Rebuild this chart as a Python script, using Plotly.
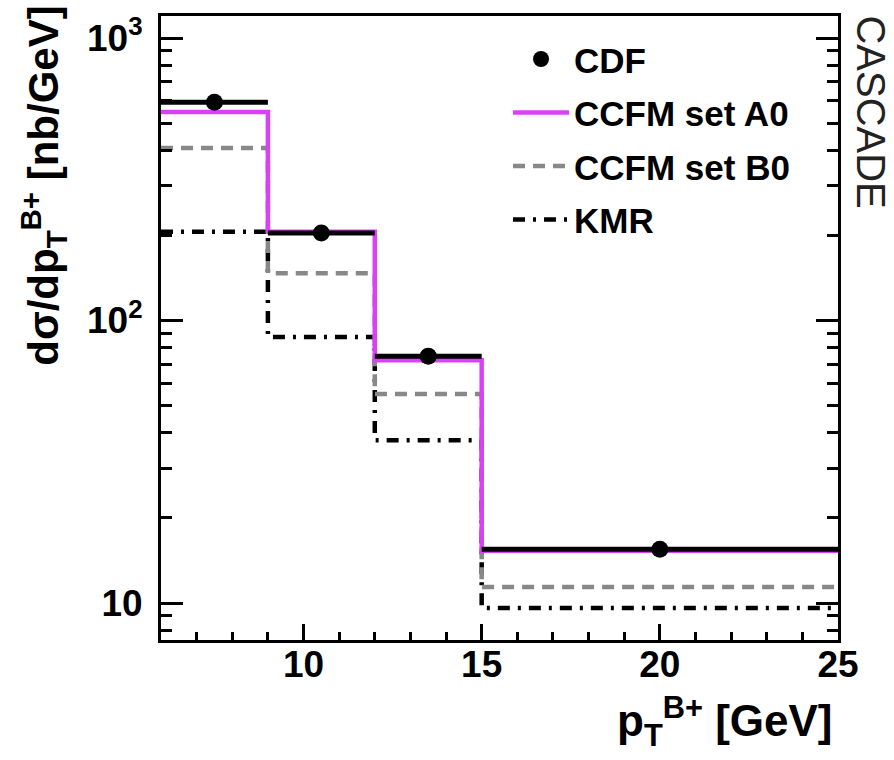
import plotly.graph_objects as go

# ---- data ----
bin_edges = [6, 9, 12, 15, 25]
cdf_x = [7.5, 10.5, 13.5, 20.0]
cdf_xerr = [1.5, 1.5, 1.5, 5.0]
cdf_y = [593, 204, 74.8, 15.5]
ccfm_a0 = [547, 206, 72.4, 15.3]
ccfm_b0 = [408, 147, 54.9, 11.4]
kmr = [206, 87.5, 37.7, 9.6]
y_tickvals = [10, 100, 1000]
y_ticktext = ["10", "10<sup>2</sup>", "10<sup>3</sup>"]
x_tickvals = [10, 15, 20, 25]

FONT = "Liberation Sans"
MAGENTA = "#DA40F8"
GRAY = "#888888"


def step_y(vals):
    return list(vals) + [vals[-1]]


fig = go.Figure()

fig.add_trace(go.Scatter(
    x=bin_edges, y=step_y(kmr), mode="lines", line_shape="hv",
    line=dict(color="black", width=4.5, dash="12px,8px,3px,8px"),
    name="KMR", legendrank=4, legendgroup="d"))
fig.add_trace(go.Scatter(
    x=bin_edges, y=step_y(ccfm_b0), mode="lines", line_shape="hv",
    line=dict(color=GRAY, width=4.5, dash="12px,8px"),
    name="CCFM set B0", legendrank=3, legendgroup="c"))
fig.add_trace(go.Scatter(
    x=bin_edges, y=step_y(ccfm_a0), mode="lines", line_shape="hv",
    line=dict(color=MAGENTA, width=4.5),
    name="CCFM set A0", legendrank=2, legendgroup="b"))
fig.add_trace(go.Scatter(
    x=cdf_x, y=cdf_y, mode="markers",
    marker=dict(color="black", size=17),
    error_x=dict(type="data", array=cdf_xerr, symmetric=True,
                 color="black", thickness=5, width=0),
    name="CDF", legendrank=1, legendgroup="a"))

axis_common = dict(
    showgrid=False, zeroline=False, showline=True, linecolor="black",
    linewidth=3, ticks="inside", tickcolor="black", tickwidth=2.5,
    tickfont=dict(family=FONT, size=37, color="black", weight="bold"),
)

fig.update_xaxes(
    **axis_common, range=[6, 25], tickvals=x_tickvals, ticklen=16,
    mirror=True, ticklabelstandoff=-10,
    minor=dict(ticks="inside", ticklen=8, dtick=1, tickcolor="black",
               tickwidth=2.5, showgrid=False),
)
fig.update_yaxes(
    **axis_common, type="log", range=[0.869, 3.078],
    tickvals=y_tickvals, ticktext=y_ticktext, ticklen=22,
    mirror="ticks", ticklabelstandoff=8,
    minor=dict(ticks="inside", ticklen=11, dtick="D1", tickcolor="black",
               tickwidth=2.5, showgrid=False),
)

fig.update_layout(
    width=894, height=760,
    margin=dict(l=161, r=56, t=16, b=120),
    plot_bgcolor="white", paper_bgcolor="white",
    showlegend=True,
    legend=dict(
        x=0.5126, y=0.978, xanchor="left", yanchor="top",
        bgcolor="rgba(0,0,0,0)", borderwidth=0,
        font=dict(family=FONT, size=35, color="black", weight="bold"),
        tracegroupgap=5, traceorder="grouped", itemwidth=56,
    ),
    annotations=[
        dict(text="dσ/dp<sub>T</sub><sup>B+</sup> [nb/GeV]",
             xref="paper", yref="paper", x=-0.174, y=1.02,
             xanchor="center", yanchor="top", textangle=-90, showarrow=False,
             font=dict(family=FONT, size=42, color="black", weight="bold")),
        dict(text="p<sub>T</sub><sup>B+</sup> [GeV]",
             xref="paper", yref="paper", x=0.996, y=-0.13,
             xanchor="right", yanchor="middle", showarrow=False,
             font=dict(family=FONT, size=44, color="black", weight="bold")),
        dict(text="CASCADE", xref="paper", yref="paper",
             x=1.0 + (871 - 838) / 677, y=1.005,
             xanchor="center", yanchor="top", textangle=90, showarrow=False,
             font=dict(family=FONT, size=40, color="#222222")),
    ],
)

fig.write_html("out.html")
